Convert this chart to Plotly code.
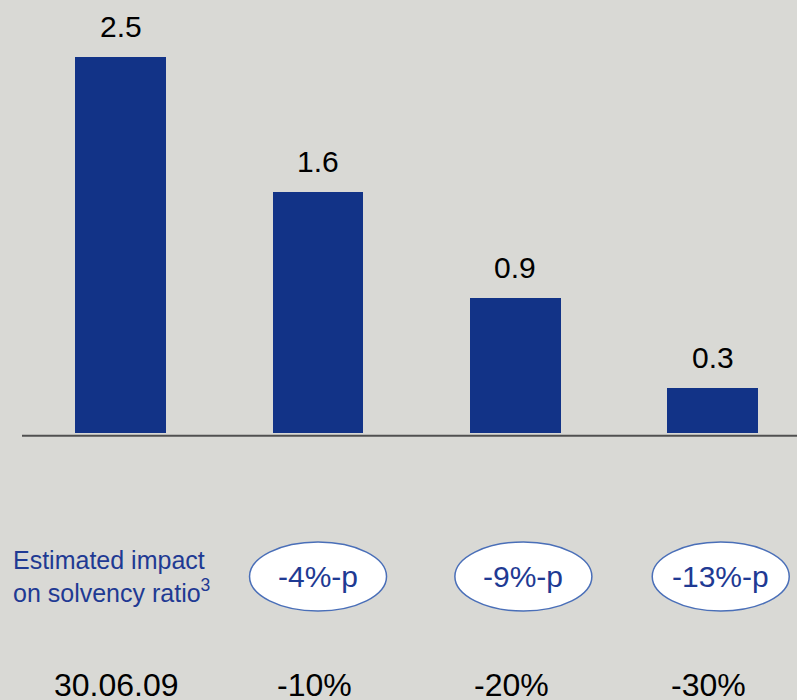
import plotly.graph_objects as go

# Scenario data
scenarios = ["30.06.09", "-10%", "-20%", "-30%"]
values = [2.5, 1.6, 0.9, 0.3]
value_labels = ["2.5", "1.6", "0.9", "0.3"]
impact_labels = ["-4%-p", "-9%-p", "-13%-p"]  # for scenarios 1..3

BG = "#d9d9d5"
BAR = "#123387"
BLUE = "#1f3a93"
FONT = "Liberation Sans, Arial, sans-serif"

x = list(range(len(scenarios)))

fig = go.Figure()
fig.add_trace(go.Bar(
    x=x, y=values, width=0.46,
    marker=dict(color=BAR, line=dict(width=0)),
    hoverinfo="skip",
))

annotations = []
# value labels above bars
for xi, v, lab in zip(x, values, value_labels):
    annotations.append(dict(
        x=xi, y=v, xref="x", yref="y", text=lab, showarrow=False,
        yanchor="bottom", yshift=12,
        font=dict(family=FONT, size=30, color="black"),
    ))

# scenario labels along the bottom
for xi, lab in zip(x, scenarios):
    annotations.append(dict(
        x=xi, y=-1.672, xref="x", yref="y", text=lab, showarrow=False,
        xshift=-4, font=dict(family=FONT, size=32, color="black"),
    ))

# impact row
IMPACT_Y = -0.954
ellipse_dx = [0, 8, 8]
shapes = []
for k, lab in enumerate(impact_labels):
    xi = x[k + 1]
    dx = ellipse_dx[k]
    shapes.append(dict(
        type="circle", xref="x", yref="y",
        xsizemode="pixel", ysizemode="pixel",
        xanchor=xi, yanchor=IMPACT_Y,
        x0=dx - 68.5, x1=dx + 68.5, y0=-34.5, y1=34.5,
        fillcolor="white", line=dict(color="#4a6fb8", width=1.5),
        layer="above",
    ))
    annotations.append(dict(
        x=xi, y=IMPACT_Y, xref="x", yref="y", text=lab, showarrow=False,
        xshift=dx, yshift=0,
        font=dict(family=FONT, size=30, color=BLUE),
    ))

annotations.append(dict(
    x=-0.5, y=IMPACT_Y, xref="x", yref="y",
    text="Estimated impact<br>on solvency ratio<sup>3</sup>",
    showarrow=False, xanchor="left", align="left", xshift=-11,
    font=dict(family=FONT, size=25, color=BLUE),
))

# baseline axis line, drawn slightly below the bar bases
shapes.append(dict(
    type="line", xref="x", yref="y", ysizemode="pixel", yanchor=0,
    x0=-0.5, x1=3.43, y0=-2.7, y1=-2.7,
    line=dict(color="#505050", width=2),
))

fig.update_layout(
    width=797, height=700,
    margin=dict(l=22, r=0, t=0, b=0),
    paper_bgcolor=BG, plot_bgcolor=BG,
    showlegend=False,
    xaxis=dict(range=[-0.5, 3.427], visible=False, fixedrange=True),
    yaxis=dict(range=[-1.775, 2.879], visible=False, fixedrange=True),
    annotations=annotations,
    shapes=shapes,
    bargap=0,
)

fig.write_html("out.html")
